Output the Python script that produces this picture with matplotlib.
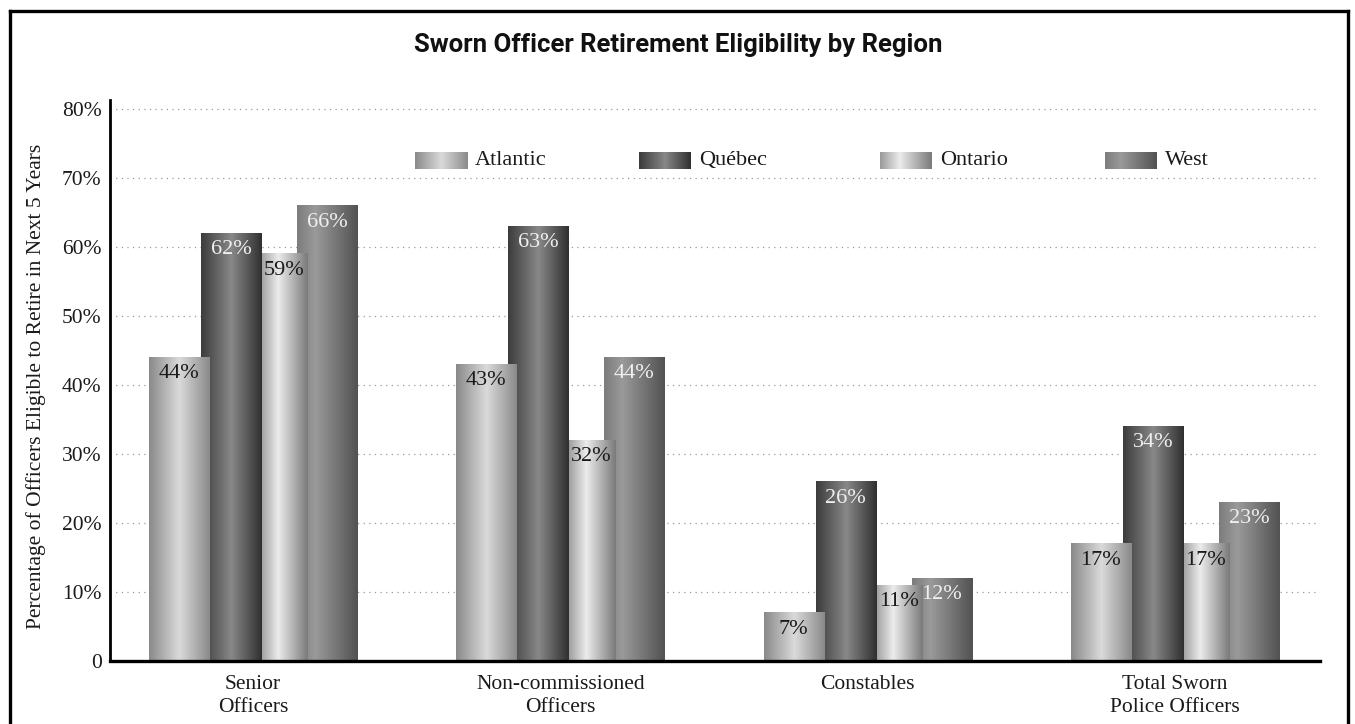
import numpy as np
import matplotlib
matplotlib.use("Agg")
import matplotlib.pyplot as plt
from matplotlib.lines import Line2D

# data
categories = ["Senior\nOfficers", "Non-commissioned\nOfficers", "Constables", "Total Sworn\nPolice Officers"]
regions = ["Atlantic", "Québec", "Ontario", "West"]
atlantic = [44, 43, 7, 17]
quebec = [62, 63, 26, 34]
ontario = [59, 32, 11, 17]
west = [66, 44, 12, 23]
series = [atlantic, quebec, ontario, west]
y_ticks = [0, 10, 20, 30, 40, 50, 60, 70, 80]
y_tick_labels = ["0", "10%", "20%", "30%", "40%", "50%", "60%", "70%", "80%"]

# style
SERIF = ["Liberation Serif", "DejaVu Serif"]
offsets = [-0.2408, -0.0716, 0.1009, 0.2408]
widths = [0.1953, 0.1953, 0.153, 0.1953]
zorders = [6, 5, 4, 3]
label_colors = ["#1a1a1a", "#f0f0f0", "#1a1a1a", "#f0f0f0"]
# gradient stops (position, grey level 0-255)
gradients = [
    [(0.0, 0x8a), (0.5, 0xda), (1.0, 0x8a)],
    [(0.0, 0x3c), (0.5, 0x88), (1.0, 0x30)],
    [(0.0, 0x9a), (0.38, 0xec), (1.0, 0x7a)],
    [(0.0, 0x7c), (0.3, 0x9a), (1.0, 0x52)],
]


def gradient_image(stops, n=128):
    pos = [s[0] for s in stops]
    lev = [s[1] / 255.0 for s in stops]
    g = np.interp(np.linspace(0, 1, n), pos, lev)
    img = np.dstack([g, g, g]).reshape(1, n, 3)
    return img


plt.rcParams['font.family'] = SERIF

fig = plt.figure(figsize=(13.55, 7.24), dpi=100)
W, H = 1355, 724
ax = fig.add_axes([110 / W, (724 - 661) / H, (1320 - 110) / W, (661 - 100) / H])

x = np.arange(len(categories))
for i, vals in enumerate(series):
    bars = ax.bar(x + offsets[i], vals, width=widths[i], color="none",
                  edgecolor="none", zorder=zorders[i])
    img = gradient_image(gradients[i])
    for b, v in zip(bars, vals):
        x0, y0 = b.get_x(), b.get_y()
        ax.imshow(img, extent=[x0, x0 + b.get_width(), y0, y0 + b.get_height()],
                  aspect="auto", interpolation="bilinear", zorder=zorders[i])
        ax.annotate(f"{v}%", (x0 + b.get_width() / 2, v), xytext=(0, -5),
                    textcoords="offset points", ha="center", va="top",
                    fontsize=16, color=label_colors[i], zorder=10)

ax.set_xlim(-0.4653, 3.472)
ax.set_ylim(0, 81.3)
ax.set_xticks(x)
ax.set_xticklabels(categories, fontsize=15.5, linespacing=1.3)
ax.set_yticks(y_ticks)
ax.set_yticklabels(y_tick_labels, fontsize=15.5)
ax.tick_params(axis="both", length=0, colors="#1a1a1a")
ax.tick_params(axis="y", pad=6)
ax.tick_params(axis="x", pad=10)

ax.yaxis.grid(True, color="#9a9a9a", linestyle=(0, (1, 3.5)), linewidth=0.9)
ax.set_axisbelow(True)
for s in ["top", "right"]:
    ax.spines[s].set_visible(False)
ax.spines["left"].set_linewidth(2)
ax.spines["bottom"].set_linewidth(2.4)
ax.spines["bottom"].set_zorder(12)

ax.set_ylabel("Percentage of Officers Eligible to Retire in Next 5 Years",
              fontsize=15.5, color="#1a1a1a")
ax.yaxis.set_label_coords(-0.053, 0.49)

# legend built from gradient swatches
legend_x = [415, 639, 880, 1105]
for i, name in enumerate(regions):
    lx0 = (legend_x[i] - 110) / (1320 - 110)
    lx1 = (legend_x[i] + 52 - 110) / (1320 - 110)
    ly0 = (661 - 169) / (661 - 100)
    ly1 = (661 - 152) / (661 - 100)
    ax.imshow(gradient_image(gradients[i]), extent=[lx0, lx1, ly0, ly1],
              transform=ax.transAxes, aspect="auto", interpolation="bilinear",
              zorder=8)
    ax.text(lx1 + 8 / (1320 - 110), (ly0 + ly1) / 2, name, transform=ax.transAxes,
            ha="left", va="center", fontsize=16, color="#1a1a1a", zorder=8)

ax.set_xlim(-0.4653, 3.472)
ax.set_ylim(0, 81.3)

fig.text(678 / W, 1 - 45 / H, "Sworn Officer Retirement Eligibility by Region",
         ha="center", va="center", fontsize=18.5, fontweight="bold",
         family=["Roboto", "DejaVu Sans"], color="#111111")

# frame around the figure
for xs, ys in [([10, 10], [0, 713]), ([10, 1348], [713, 713]), ([1348, 1348], [713, 0])]:
    fig.add_artist(Line2D([v / W for v in xs], [v / H for v in ys],
                          color="black", linewidth=2.4, transform=fig.transFigure))

fig.savefig("out.png", dpi=100)
